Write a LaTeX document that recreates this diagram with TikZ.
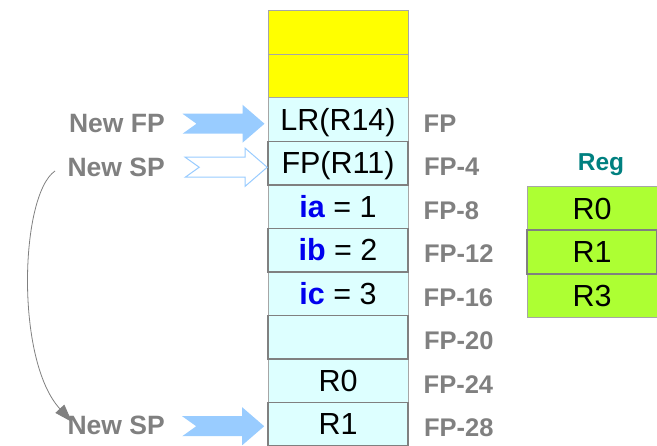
\documentclass[tikz,border=0pt]{standalone}
\usepackage{fontspec}
\setmainfont{Liberation Sans}
\usetikzlibrary{arrows.meta,positioning}
\definecolor{cellfill}{HTML}{DDFFFF}
\definecolor{regfill}{HTML}{ADFF33}
\definecolor{lightline}{HTML}{A6A6A6}
\definecolor{darkline}{HTML}{808080}
\definecolor{labgray}{HTML}{808080}
\definecolor{arrowblue}{HTML}{99CCFF}
\definecolor{regteal}{HTML}{008080}
\definecolor{idblue}{HTML}{0000EE}
\definecolor{topyellow}{HTML}{FFFF00}
\tikzset{
  cell/.style={draw=lightline,line width=1pt,fill=cellfill,minimum width=140pt,
    minimum height=43.5pt,inner sep=0pt,text height=21.5pt,text depth=0pt,
    font=\fontsize{30.5}{32}\selectfont},
  darkcell/.style={cell,draw=darkline,line width=1.6pt},
  regcell/.style={cell,fill=regfill,minimum width=130pt},
  offs/.style={text=labgray,inner sep=0pt,text height=17pt,text depth=0pt,
    font=\fontsize{25.5}{27}\bfseries},
  ptrlab/.style={text=labgray,inner sep=0pt,text height=18pt,text depth=0pt,
    font=\fontsize{26.5}{28}\bfseries},
  fatarrow/.pic={\path[pic actions](0,0)--(-22,-19)--(-22,-10)--(-82,-10)--(-68,0)
    --(-82,10)--(-22,10)--(-22,19)--cycle;}
}
\newcommand{\idv}[1]{\textbf{\color{idblue}#1}}
\begin{document}
\begin{tikzpicture}[x=1pt,y=-1pt]
\useasboundingbox (0,0) rectangle (657,446);
% stack frame
\node[cell,fill=topyellow](top1) at (338,32.75){};
\node[cell,fill=topyellow](top2) at (338,76.25){};
\node[cell](lr) at (338,119.75){LR(R14)};
\node[cell](ia) at (338,206.75){\idv{ia} = 1};
\node[cell](ic) at (338,293.75){\idv{ic} = 3};
\node[cell](sr0) at (338,380.75){R0};
\node[darkcell](fpr) at (338,163.25){FP(R11)};
\node[darkcell](ib) at (338,250.25){\idv{ib} = 2};
\node[darkcell](gap) at (338,337.25){};
\node[darkcell](sr1) at (338,424.25){R1};
% offsets
\node[offs,right=15pt of lr,yshift=-4pt](o0){FP};
\node[offs,right=15pt of fpr,yshift=-4pt](o4){FP-4};
\node[offs,right=15pt of ia,yshift=-4pt](o8){FP-8};
\node[offs,right=15pt of ib,yshift=-4pt](o12){FP-12};
\node[offs,right=15pt of ic,yshift=-4pt](o16){FP-16};
\node[offs,right=15pt of gap,yshift=-4pt](o20){FP-20};
\node[offs,right=15pt of sr0,yshift=-4pt](o24){FP-24};
\node[offs,right=15pt of sr1,yshift=-4pt](o28){FP-28};
% registers
\node[text=regteal,inner sep=0pt,text height=17pt,text depth=0pt,
  font=\fontsize{24.5}{26}\bfseries](reg) at (601,162){Reg};
\node[regcell](g0) at (592,208.5){R0};
\node[regcell](g3) at (592,295.5){R3};
\node[regcell,draw=darkline,line width=1.6pt](g1) at (592,252){R1};
% pointers
\node[ptrlab,anchor=east](nfp) at (165,124){New FP};
\node[ptrlab,anchor=east](nsp1) at (165,167.5){New SP};
\node[ptrlab,anchor=east](nsp2) at (165,425.5){New SP};
\pic[fill=arrowblue] at ([xshift=-3pt,yshift=-4pt]lr.west){fatarrow};
\pic[draw=arrowblue,fill=white,line width=1pt] at ([yshift=-4pt]fpr.west){fatarrow};
\pic[fill=arrowblue] at ([xshift=-3pt,yshift=-2pt]sr1.west){fatarrow};
\coordinate (spold) at (55,171);
\coordinate (spnew) at (72,422);
\draw[darkline,line width=0.8pt,-{Triangle[length=18pt,width=12pt]}]
  (spold) .. controls (20,195) and (15,360) .. (spnew);
\end{tikzpicture}
\end{document}
